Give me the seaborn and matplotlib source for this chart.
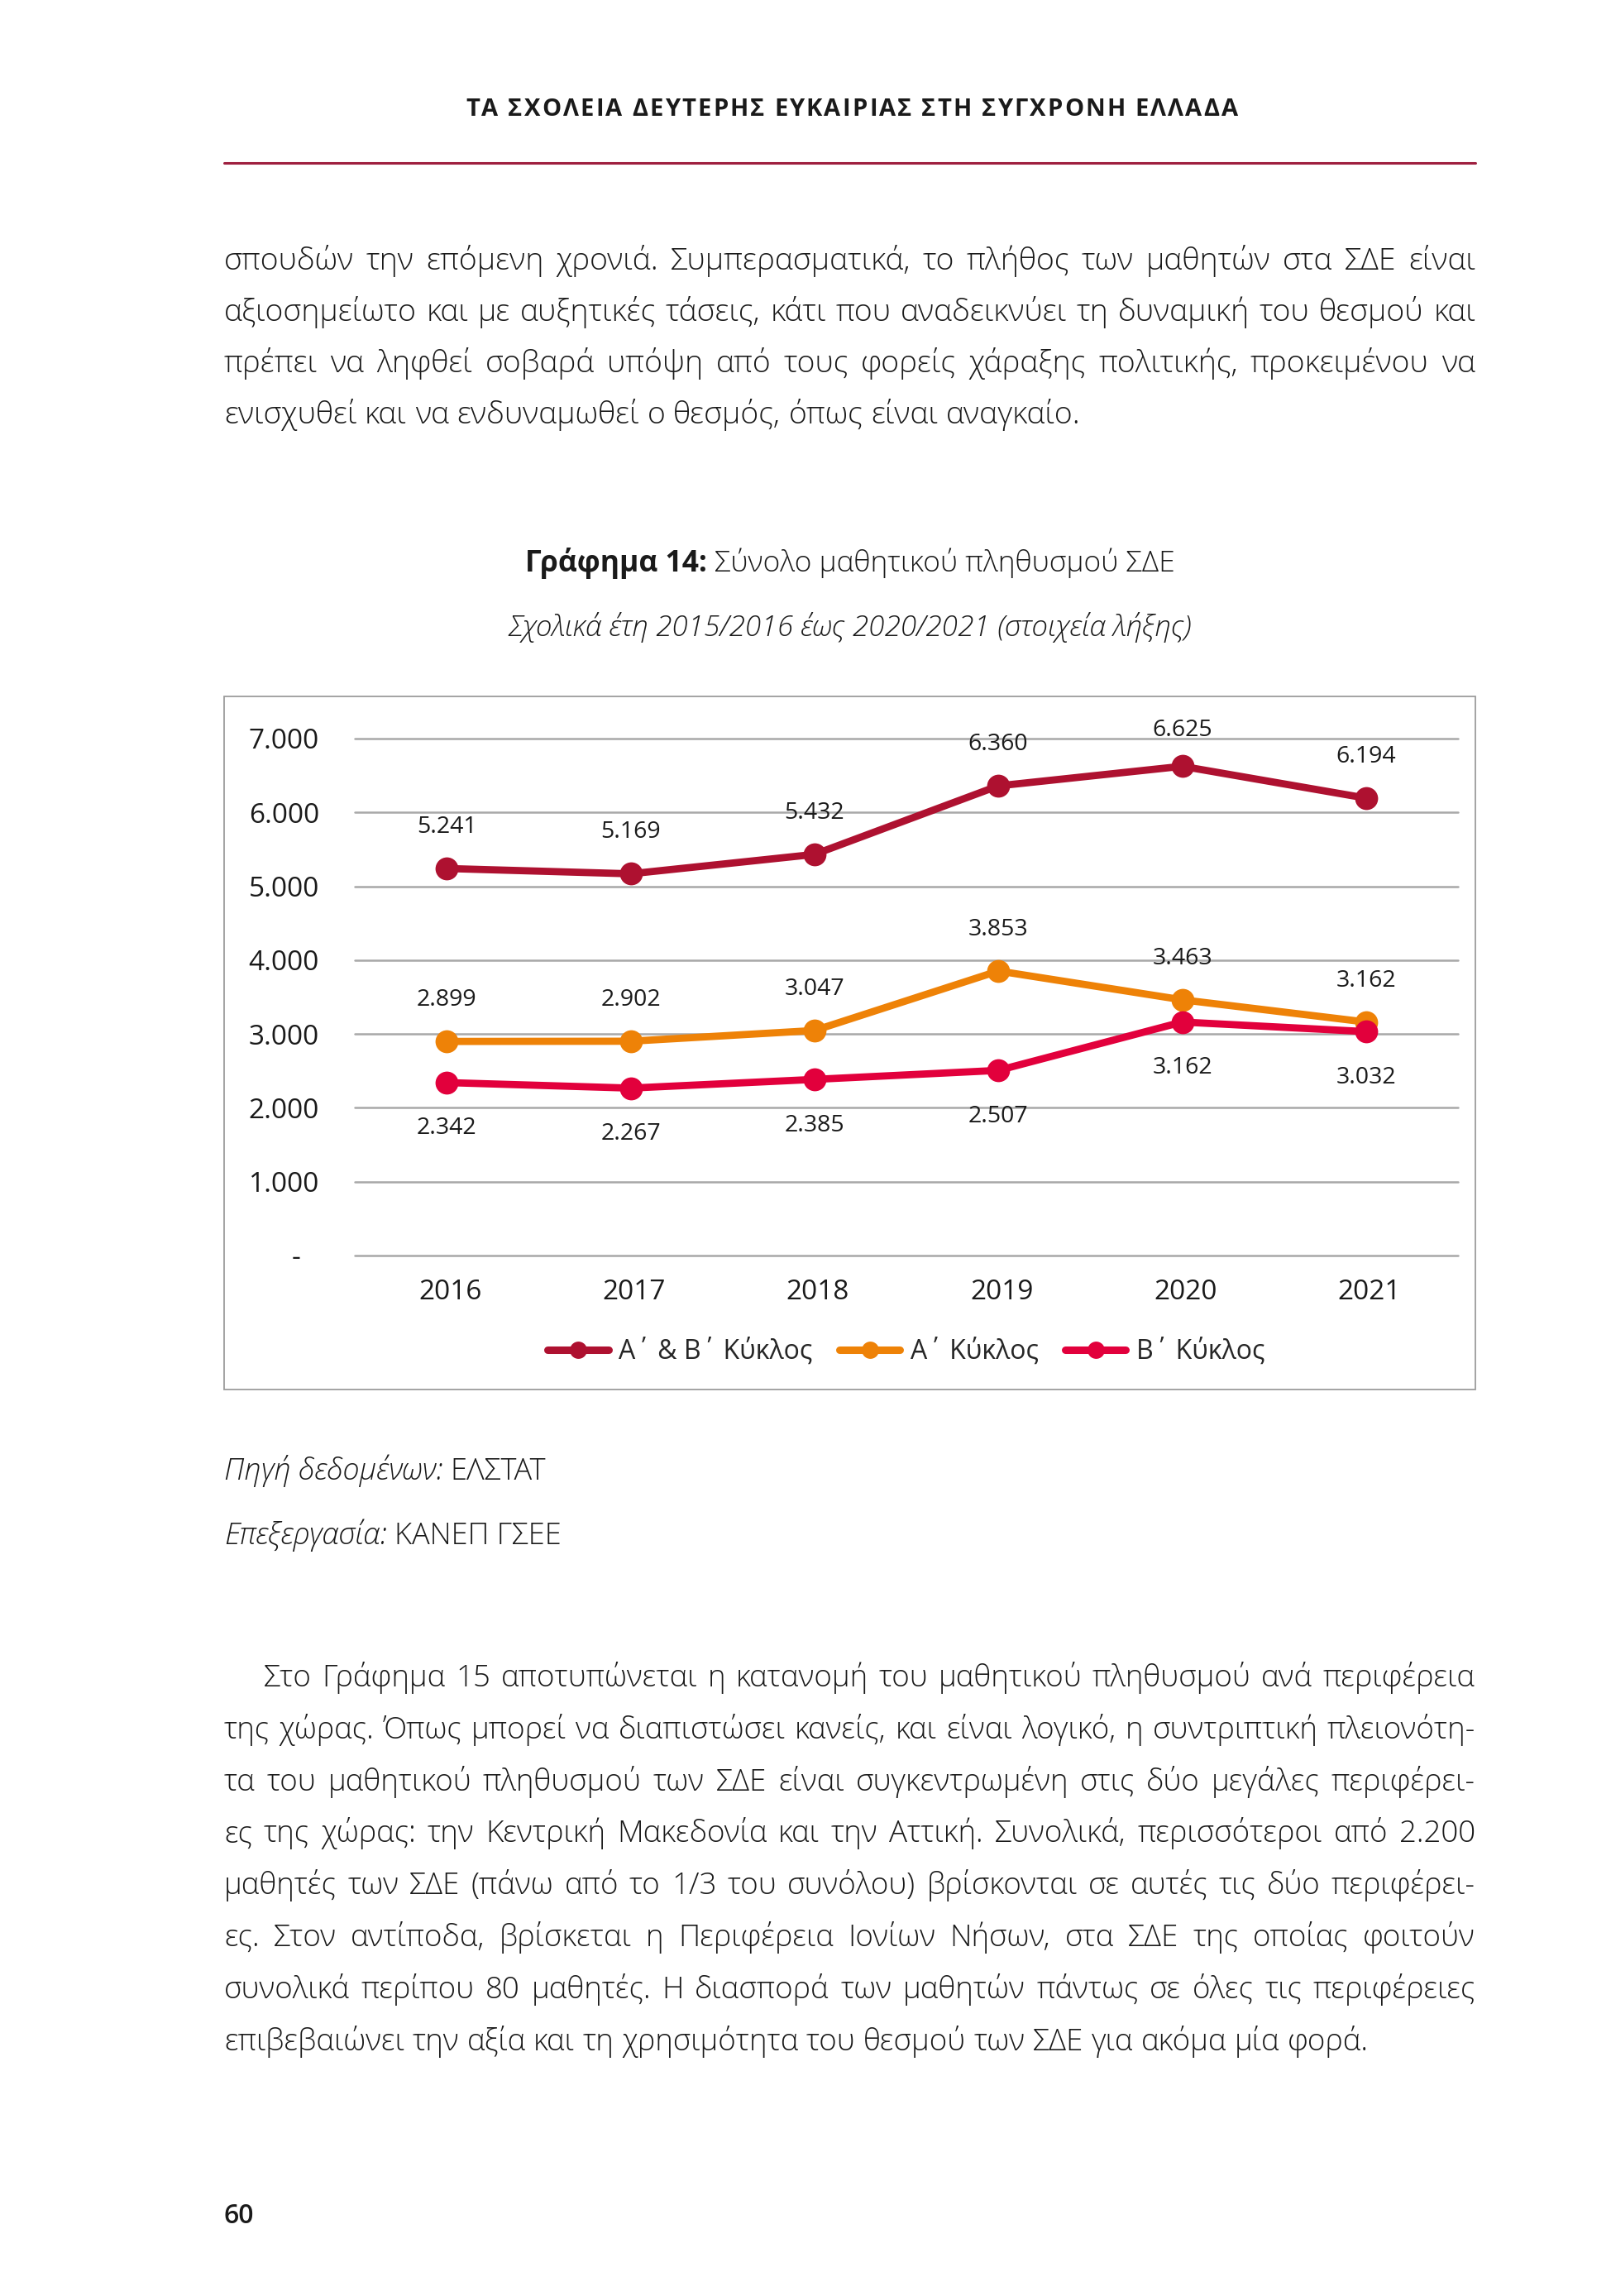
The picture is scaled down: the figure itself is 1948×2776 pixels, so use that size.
import logging
import numpy as np
import pandas as pd
import matplotlib
matplotlib.use("Agg")
import matplotlib.pyplot as plt
import matplotlib.transforms as mtransforms
from matplotlib.lines import Line2D
from matplotlib.patches import Rectangle
import seaborn as sns

logging.getLogger("matplotlib.font_manager").setLevel(logging.ERROR)

# ---------------- data ----------------
years = [2016, 2017, 2018, 2019, 2020, 2021]
total_ab = [5241, 5169, 5432, 6360, 6625, 6194]
cycle_a = [2899, 2902, 3047, 3853, 3463, 3162]
cycle_b = [2342, 2267, 2385, 2507, 3162, 3032]
series_names = ["Α΄ & Β΄ Κύκλος", "Α΄ Κύκλος", "Β΄ Κύκλος"]
y_ticks = [0, 1000, 2000, 3000, 4000, 5000, 6000, 7000]
y_tick_labels = ["-", "1.000", "2.000", "3.000", "4.000", "5.000", "6.000", "7.000"]
year_labels = ["2016", "2017", "2018", "2019", "2020", "2021"]

header_text = "ΤΑ ΣΧΟΛΕΙΑ ΔΕΥΤΕΡΗΣ ΕΥΚΑΙΡΙΑΣ ΣΤΗ ΣΥΓΧΡΟΝΗ ΕΛΛΑΔΑ"
para1 = [
    "σπουδών την επόμενη χρονιά. Συμπερασματικά, το πλήθος των μαθητών στα ΣΔΕ είναι",
    "αξιοσημείωτο και με αυξητικές τάσεις, κάτι που αναδεικνύει τη δυναμική του θεσμού και",
    "πρέπει να ληφθεί σοβαρά υπόψη από τους φορείς χάραξης πολιτικής, προκειμένου να",
    "ενισχυθεί και να ενδυναμωθεί ο θεσμός, όπως είναι αναγκαίο.",
]
para2 = [
    "Στο Γράφημα 15 αποτυπώνεται η κατανομή του μαθητικού πληθυσμού ανά περιφέρεια",
    "της χώρας. Όπως μπορεί να διαπιστώσει κανείς, και είναι λογικό, η συντριπτική πλειονότη-",
    "τα του μαθητικού πληθυσμού των ΣΔΕ είναι συγκεντρωμένη στις δύο μεγάλες περιφέρει-",
    "ες της χώρας: την Κεντρική Μακεδονία και την Αττική. Συνολικά, περισσότεροι από 2.200",
    "μαθητές των ΣΔΕ (πάνω από το 1/3 του συνόλου) βρίσκονται σε αυτές τις δύο περιφέρει-",
    "ες. Στον αντίποδα, βρίσκεται η Περιφέρεια Ιονίων Νήσων, στα ΣΔΕ της οποίας φοιτούν",
    "συνολικά περίπου 80 μαθητές. Η διασπορά των μαθητών πάντως σε όλες τις περιφέρειες",
    "επιβεβαιώνει την αξία και τη χρησιμότητα του θεσμού των ΣΔΕ για ακόμα μία φορά.",
]
title_bold = "Γράφημα 14:"
title_rest = "Σύνολο μαθητικού πληθυσμού ΣΔΕ"
subtitle = "Σχολικά έτη 2015/2016 έως 2020/2021 (στοιχεία λήξης)"
source1 = ("Πηγή δεδομένων:", "ΕΛΣΤΑΤ")
source2 = ("Επεξεργασία:", "ΚΑΝΕΠ ΓΣΕΕ")
page_number = "60"

# ---------------- style ----------------
colors = ["#AE1130", "#EE8207", "#E2003C"]
sns.set_theme(style="white")
CHART = ["Open Sans", "DejaVu Sans"]
BODY = ["Liberation Sans Narrow", "Open Sans", "DejaVu Sans"]
plt.rcParams["font.family"] = CHART

W, H = 1949, 2776
fig = plt.figure(figsize=(W / 100, H / 100), dpi=100)
fig.patch.set_facecolor("white")
renderer = fig.canvas.get_renderer()


def fx(x):
    return x / W


def fy(y):
    return 1 - y / H


def measure(s, **kw):
    t = fig.text(0, 0, s, **kw)
    w = t.get_window_extent(renderer=renderer).width
    t.remove()
    return w


def space_w(**kw):
    return measure("n n", **kw) - measure("nn", **kw)


def place_line(line, x_start, x_end, y_base, justify, **kw):
    words = line.split(" ")
    widths = [measure(w, **kw) for w in words]
    sp = space_w(**kw)
    if justify and len(words) > 1:
        gap = (x_end - x_start - sum(widths)) / (len(words) - 1)
    else:
        gap = sp
    x = x_start
    for w, wd in zip(words, widths):
        fig.text(fx(x), fy(y_base), w, ha="left", va="baseline", **kw)
        x += wd + gap


def fit_size(lines, base, avail, starts, **kw):
    worst = 0
    sp = space_w(fontsize=base, **kw)
    for ln, xs in zip(lines, starts):
        words = ln.split(" ")
        nat = sum(measure(w, fontsize=base, **kw) for w in words) + sp * (len(words) - 1)
        worst = max(worst, nat / (avail - xs))
    return base * min(1.0, 0.985 / worst) if worst > 0 else base


def paragraph(lines, x0, x1, y0, step, base, first_indent=0, **kw):
    starts = [first_indent if i == 0 else 0 for i in range(len(lines))]
    size = fit_size(lines[:-1], base, x1 - x0, starts[:-1], **kw)
    for i, ln in enumerate(lines):
        place_line(ln, x0 + starts[i], x1, y0 + i * step, i < len(lines) - 1,
                   fontsize=size, **kw)


# ---------------- header ----------------
hdr_kw = dict(fontsize=21, fontweight="bold", family=CHART, color="#1a1a1a")
chars = list(header_text)
sp_h = space_w(**hdr_kw)
cw = [sp_h if c == " " else measure(c, **hdr_kw) for c in chars]
x_l, x_r = 563, 1497
track = (x_r - x_l - sum(cw)) / (len(chars) - 1)
x = x_l
for c, w in zip(chars, cw):
    if c != " ":
        fig.text(fx(x), fy(140), c, ha="left", va="baseline", **hdr_kw)
    x += w + track

fig.add_artist(Line2D([fx(271), fx(1784)], [fy(197), fy(197)],
                      transform=fig.transFigure, color="#9E1F3F", lw=2.2))

# ---------------- paragraphs ----------------
body_kw = dict(family=BODY, fontweight="light", color="#1a1a1a")
paragraph(para1, 271, 1784, 326, 62.0, 31, **body_kw)
paragraph(para2, 271, 1784, 2039, 62.8, 31, first_indent=48, **body_kw)

# ---------------- chart titles ----------------
tb_kw = dict(fontsize=25.5, fontweight="bold", family=BODY, color="#1a1a1a")
tr_kw = dict(fontsize=25.5, fontweight="light", family=BODY, color="#1a1a1a")
wb = measure(title_bold, **tb_kw)
wr = measure(title_rest, **tr_kw)
sp_t = space_w(**tr_kw)
xs = 1028 - (wb + sp_t + wr) / 2
fig.text(fx(xs), fy(691), title_bold, ha="left", va="baseline", **tb_kw)
fig.text(fx(xs + wb + sp_t), fy(691), title_rest, ha="left", va="baseline", **tr_kw)
fig.text(fx(1028), fy(769), subtitle, ha="center", va="baseline", fontsize=25.3,
         fontstyle="italic", fontweight="light", family=BODY, color="#1a1a1a")

# ---------------- chart frame ----------------
fig.add_artist(Rectangle((fx(271), fy(1680)), 1513 / W, (1680 - 842) / H,
                         transform=fig.transFigure, fill=False,
                         edgecolor="#9c9c9c", lw=1.3))

ax = fig.add_axes([fx(429), fy(1518), (1763 - 429) / W, (1518 - 893) / H])
df = pd.DataFrame({
    "year": years * 3,
    "value": total_ab + cycle_a + cycle_b,
    "series": [n for n in series_names for _ in years],
})
sns.lineplot(data=df, x="year", y="value", hue="series", hue_order=series_names,
             palette=dict(zip(series_names, colors)), marker="o", markersize=20,
             markeredgewidth=0, linewidth=6.3, legend=False, sort=False, ax=ax)
for ln in ax.get_lines():
    ln.set_solid_capstyle("round")
    ln.set_solid_joinstyle("round")
    ln.set_clip_on(False)

ax.set_xlim(2015.5, 2021.5)
ax.set_ylim(0, 7000)
ax.set_xticks(years, labels=year_labels)
ax.set_yticks(y_ticks, labels=y_tick_labels)
ax.set_xlabel("")
ax.set_ylabel("")
for s in ax.spines.values():
    s.set_visible(False)
ax.grid(axis="y", color="#a8a8a8", lw=1.8)
ax.grid(axis="x", visible=False)
ax.set_axisbelow(True)
for gl in ax.get_ygridlines():
    gl.set_clip_on(False)
ax.tick_params(axis="y", length=0, pad=31, labelsize=24, labelcolor="#1a1a1a")
ax.tick_params(axis="x", length=0, pad=20, labelsize=24, labelcolor="#1a1a1a")
ax.set_facecolor("none")
for lbl in ax.get_xticklabels():
    lbl.set_transform(lbl.get_transform() +
                      mtransforms.ScaledTranslation(0.04, 0, fig.dpi_scale_trans))

zero_lbl = ax.yaxis.get_major_ticks()[0].label1
zero_lbl.set_transform(zero_lbl.get_transform() +
                       mtransforms.ScaledTranslation(-0.22, 0, fig.dpi_scale_trans))

# data labels
offsets = [36, 36, -40]
for vals, off in zip([total_ab, cycle_a, cycle_b], offsets):
    for i, (yr, v) in enumerate(zip(years, vals)):
        o = off
        if off > 0 and v > 6500:
            o = 31
        ax.annotate(f"{v:,}".replace(",", "."), xy=(yr, v), xytext=(0, o),
                    textcoords="offset points", ha="center", va="center",
                    fontsize=20.5, color="#1a1a1a", annotation_clip=False)

handles = [Line2D([0], [0], color=c, lw=6.5, marker="o", markersize=15,
                  markeredgewidth=0, solid_capstyle="round") for c in colors]
ax.legend(handles, series_names, loc="center", bbox_to_anchor=(0.5, -0.186),
          ncol=3, frameon=False, fontsize=23, handlelength=2.3,
          handletextpad=0.4, columnspacing=1.0, borderaxespad=0)

# ---------------- source lines ----------------
src_kw_i = dict(fontsize=26, fontstyle="italic", fontweight="light", family=BODY, color="#1a1a1a")
src_kw_n = dict(fontsize=26, fontweight="light", family=BODY, color="#1a1a1a")
for (lab, val), yb in [(source1, 1789), (source2, 1867)]:
    wl = measure(lab, **src_kw_i)
    fig.text(fx(271), fy(yb), lab, ha="left", va="baseline", **src_kw_i)
    fig.text(fx(271 + wl + space_w(**src_kw_n)), fy(yb), val, ha="left",
             va="baseline", **src_kw_n)

fig.text(fx(271), fy(2688), page_number, ha="left", va="baseline", fontsize=23,
         fontweight="semibold", family=CHART, color="#1a1a1a")

fig.savefig("out.png", dpi=100, facecolor="white")
